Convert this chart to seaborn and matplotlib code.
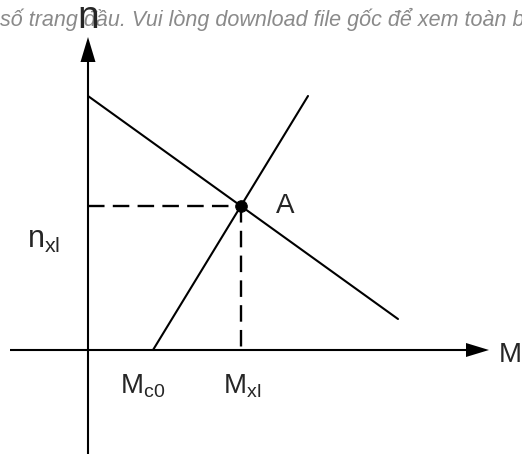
import matplotlib
matplotlib.use("Agg")
import matplotlib.pyplot as plt
import seaborn as sns
import pandas as pd

sns.set_theme(style="white")
plt.rcParams['font.family'] = ['Liberation Sans', 'DejaVu Sans']
plt.rcParams['mathtext.fontset'] = 'custom'
plt.rcParams['mathtext.rm'] = 'Liberation Sans'
plt.rcParams['mathtext.it'] = 'Liberation Sans:italic'

# Diagram data (pixel-like units, origin at the axes crossing)
line1_x = [0, 310]      # descending line n(M)
line1_y = [254, 31]
line2_x = [65, 220]     # ascending line from M_c0
line2_y = [0, 254]
point_A = (153, 144)
x_axis = [-78, 382]
y_axis = [-104, 292]

fig = plt.figure(figsize=(5.22, 4.54), dpi=100)
ax = fig.add_axes([0, 0, 1, 1])
ax.set_xlim(-88, 434)
ax.set_ylim(-104, 350)
ax.axis('off')

lw = 1.5
# axes
ax.plot(x_axis, [0, 0], color='black', lw=lw, solid_capstyle='butt')
ax.plot([0, 0], y_axis, color='black', lw=lw, solid_capstyle='butt')
ax.fill([401, 378, 378], [0, 7, -7], color='black', lw=0)
ax.fill([0, -7.5, 7.5], [313, 288, 288], color='black', lw=0)

df = pd.DataFrame({'x': line1_x + line2_x, 'y': line1_y + line2_y,
                   'line': ['l1', 'l1', 'l2', 'l2']})
sns.lineplot(data=df, x='x', y='y', units='line', estimator=None,
             color='black', lw=lw, ax=ax, sort=False)

ax.plot([0, point_A[0]], [point_A[1], point_A[1]], color='black', lw=lw + 0.2,
        dashes=(7, 3.5))
ax.plot([point_A[0], point_A[0]], [point_A[1], 0], color='black', lw=lw + 0.2,
        dashes=(7, 3.5))
sns.scatterplot(x=[point_A[0]], y=[point_A[1]], color='black', s=70, ax=ax,
                edgecolor='black', zorder=5)

# labels
ax.text(0, 322, 'n', fontsize=28, ha='center', va='baseline', zorder=6)
ax.text(411, -5, 'M', fontsize=20, ha='left', va='center')
ax.text(188, 144, 'A', fontsize=20, ha='left', va='center')
ax.text(-61, 102, r'$\mathregular{n_{xl}}$', fontsize=22, ha='left', va='baseline')
ax.text(32, -43, r'$\mathregular{M_{c0}}$', fontsize=20, ha='left', va='baseline')
ax.text(135, -43, r'$\mathregular{M_{xl}}$', fontsize=20, ha='left', va='baseline')

# watermark-like header text
ax.text(-88, 331, 'số trang đầu. Vui lòng download file gốc để xem toàn b',
        fontsize=15.5, style='italic', color='#8a8a8a', ha='left', va='center',
        zorder=1)

fig.savefig('out.png', dpi=100)
